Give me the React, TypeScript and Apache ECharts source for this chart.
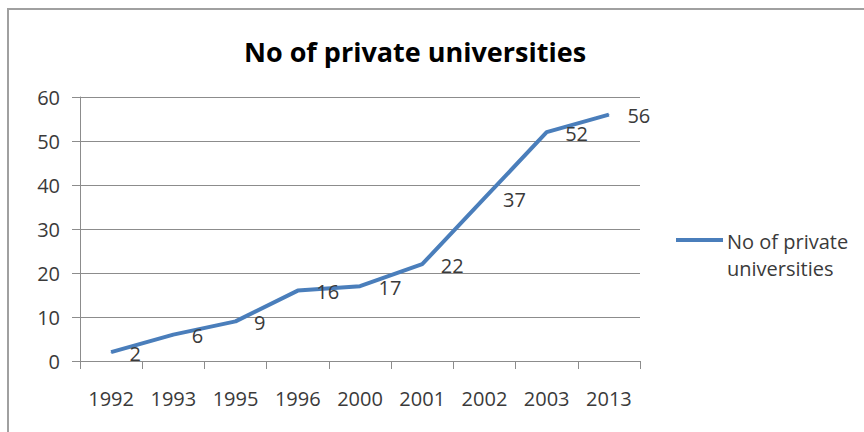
import React, { useEffect, useRef } from "react";
import * as echarts from "echarts";

const categories = ["1992", "1993", "1995", "1996", "2000", "2001", "2002", "2003", "2013"];
const values = [2, 6, 9, 16, 17, 22, 37, 52, 56];
const seriesName = "No of private universities";
const titleText = "No of private universities";
const legendLines = ["No of private", "universities"];

const FONT = "'Open Sans', 'Noto Sans', sans-serif";
const LINE_COLOR = "#4A7EBB";
const TEXT_COLOR = "#3a3a3a";
const GRID_COLOR = "#8c8c8c";

export default function App() {
  const ref = useRef<HTMLDivElement>(null);
  useEffect(() => {
    document.body.style.margin = "0";
    if (!ref.current) return;
    const chart = echarts.init(ref.current, null, { renderer: "svg" });
    chart.setOption({
      animation: false,
      backgroundColor: "#ffffff",
      grid: { left: 80, right: 224, top: 97, bottom: 71 },
      xAxis: {
        type: "category",
        data: categories,
        boundaryGap: true,
        axisLine: { lineStyle: { color: GRID_COLOR, width: 1 } },
        axisTick: { show: true, length: 8, alignWithLabel: false, lineStyle: { color: GRID_COLOR } },
        axisLabel: { color: TEXT_COLOR, fontSize: 20, fontFamily: FONT, margin: 27 },
      },
      yAxis: {
        type: "value",
        min: 0,
        max: 60,
        interval: 10,
        axisLine: { show: true, lineStyle: { color: GRID_COLOR, width: 1 } },
        axisTick: { show: true, length: 8, lineStyle: { color: GRID_COLOR } },
        axisLabel: { color: TEXT_COLOR, fontSize: 20, fontFamily: FONT, margin: 20 },
        splitLine: { show: true, lineStyle: { color: GRID_COLOR, width: 1 } },
      },
      series: [
        {
          name: seriesName,
          type: "line",
          data: values,
          symbol: "circle",
          symbolSize: 1,
          showSymbol: true,
          itemStyle: { color: LINE_COLOR },
          lineStyle: { color: LINE_COLOR, width: 4 },
          label: {
            show: true,
            position: "right",
            distance: 18,
            offset: [0, 1],
            color: TEXT_COLOR,
            fontSize: 20,
            fontFamily: FONT,
          },
        },
      ],
      graphic: [
        {
          type: "rect",
          shape: { x: 8, y: 9, width: 900, height: 500 },
          style: { fill: "none", stroke: "#a0a0a0", lineWidth: 2 },
          silent: true,
        },
        {
          type: "text",
          x: 415,
          y: 51,
          style: {
            text: titleText,
            fill: "#000000",
            font: `bold 27px ${FONT}`,
            textAlign: "center",
            textVerticalAlign: "middle",
          },
        },
        {
          type: "line",
          shape: { x1: 676, y1: 240, x2: 723, y2: 240 },
          style: { stroke: LINE_COLOR, lineWidth: 4 },
        },
        {
          type: "text",
          x: 727,
          y: 241,
          style: {
            text: legendLines[0],
            fill: TEXT_COLOR,
            font: `20px ${FONT}`,
            textAlign: "left",
            textVerticalAlign: "middle",
          },
        },
        {
          type: "text",
          x: 727,
          y: 268,
          style: {
            text: legendLines[1],
            fill: TEXT_COLOR,
            font: `20px ${FONT}`,
            textAlign: "left",
            textVerticalAlign: "middle",
          },
        },
      ],
    });
    return () => chart.dispose();
  }, []);
  return <div ref={ref} style={{ width: 864, height: 432 }} />;
}
